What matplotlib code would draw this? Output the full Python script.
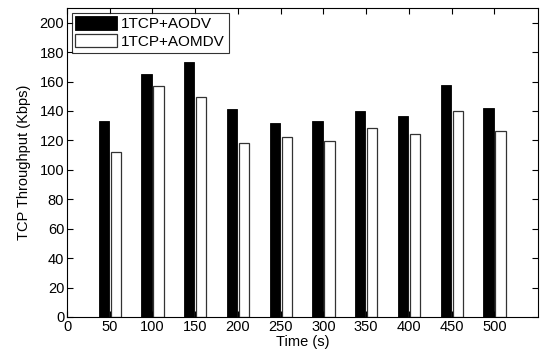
import numpy as np
import matplotlib
matplotlib.use('Agg')
import matplotlib.pyplot as plt

plt.rcParams['font.family'] = ['Liberation Sans', 'DejaVu Sans']

times = [50, 100, 150, 200, 250, 300, 350, 400, 450, 500]
aodv = [133.2, 165.1, 173.1, 141.6, 131.9, 133.5, 139.8, 136.9, 157.7, 141.8]
aomdv = [111.8, 156.8, 149.3, 118.1, 122.4, 119.9, 128.7, 124.7, 140.3, 126.7]
labels = ['1TCP+AODV', '1TCP+AOMDV']

x = np.array(times)
fig = plt.figure(figsize=(5.41, 3.52), dpi=100)
ax = fig.add_axes([67/541, 1 - 317/352, (538-67)/541, (317-8)/352])

ax.bar(x - 7, aodv, width=12, color='k', edgecolor='k', linewidth=0.6, label=labels[0])
ax.bar(x + 7, aomdv, width=12, color='w', edgecolor='#333333', linewidth=0.9, label=labels[1])

ax.set_xlim(0, 551)
ax.set_ylim(0, 210)
ax.set_xticks(np.arange(0, 501, 50))
ax.set_yticks(np.arange(0, 201, 20))
ax.tick_params(direction='in', top=True, right=True, labelsize=10.5, length=4, pad=2)
ax.set_xlabel('Time (s)', fontsize=10.5, labelpad=1)
ax.set_ylabel('TCP Throughput (Kbps)', fontsize=10.5, labelpad=6)

leg = ax.legend(loc='upper left', fontsize=11, frameon=True, fancybox=False,
                edgecolor='k', borderpad=0.25, handlelength=2.7, handleheight=1.0,
                labelspacing=0.15, handletextpad=0.3, borderaxespad=0.3)
leg.get_frame().set_linewidth(0.8)

fig.savefig('out.png', dpi=100)
